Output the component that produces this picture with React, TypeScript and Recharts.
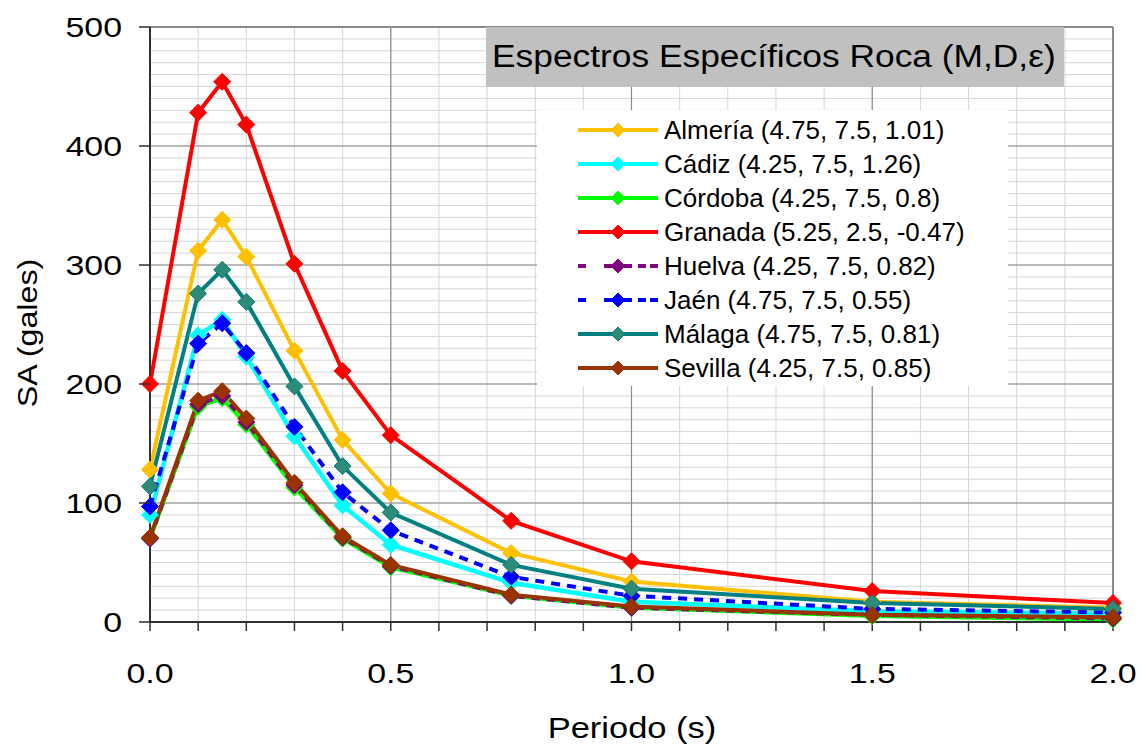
import React from 'react';
import { LineChart, Line, XAxis, YAxis, CartesianGrid, ReferenceLine } from 'recharts';

const FONT = '"Liberation Sans", Arial, Helvetica, sans-serif';

const periods = [0, 0.1, 0.15, 0.2, 0.3, 0.4, 0.5, 0.75, 1.0, 1.5, 2.0];

const almeria = [128, 312, 338, 307, 228, 153, 108, 58, 34, 17, 12];
const cadiz = [90, 241, 254, 223, 156, 98, 65, 33, 17, 9, 7];
const cordoba = [70, 181, 188, 166, 113, 70, 46, 22, 12, 5, 2];
const granada = [200, 428, 454, 418, 301, 211, 157, 85, 51, 26, 16];
const huelva = [70, 183, 190, 168, 115, 71, 47, 22, 12, 6, 3];
const jaen = [97, 234, 251, 226, 164, 109, 77, 38, 22, 11, 8];
const malaga = [114, 276, 296, 269, 198, 131, 92, 48, 28, 16, 11];
const sevilla = [71, 186, 194, 171, 117, 72, 48, 23, 13, 6, 4];

const seriesNames = [
  'Almería (4.75, 7.5, 1.01)',
  'Cádiz (4.25, 7.5, 1.26)',
  'Córdoba (4.25, 7.5, 0.8)',
  'Granada (5.25, 2.5, -0.47)',
  'Huelva (4.25, 7.5, 0.82)',
  'Jaén (4.75, 7.5, 0.55)',
  'Málaga (4.75, 7.5, 0.81)',
  'Sevilla (4.25, 7.5, 0.85)',
];

const xTicks = [0, 0.1, 0.2, 0.3, 0.4, 0.5, 0.6, 0.7, 0.8, 0.9, 1.0, 1.1, 1.2, 1.3, 1.4, 1.5, 1.6, 1.7, 1.8, 1.9, 2.0];
const yTicks = [0, 10, 20, 30, 40, 50, 60, 70, 80, 90, 100, 110, 120, 130, 140, 150, 160, 170, 180, 190, 200, 210, 220, 230, 240, 250, 260, 270, 280, 290, 300, 310, 320, 330, 340, 350, 360, 370, 380, 390, 400, 410, 420, 430, 440, 450, 460, 470, 480, 490, 500];
const xMajor = [0.5, 1.0, 1.5];
const yMajor = [100, 200, 300, 400];

type S = { key: string; name: string; values: number[]; color: string; fill: string; stroke: string; dash?: string; width: number };

const series: S[] = [
  { key: 'almeria', name: seriesNames[0], values: almeria, color: '#FFC000', fill: '#FFC000', stroke: '#FFC000', width: 4 },
  { key: 'cadiz', name: seriesNames[1], values: cadiz, color: '#00FFFF', fill: '#00FFFF', stroke: '#00FFFF', width: 4.5 },
  { key: 'cordoba', name: seriesNames[2], values: cordoba, color: '#00FF00', fill: '#00FF00', stroke: '#00FF00', width: 4 },
  { key: 'granada', name: seriesNames[3], values: granada, color: '#FF0000', fill: '#FF0000', stroke: '#FF0000', width: 4 },
  { key: 'huelva', name: seriesNames[4], values: huelva, color: '#800080', fill: '#800080', stroke: '#800080', dash: '8 7', width: 4 },
  { key: 'jaen', name: seriesNames[5], values: jaen, color: '#0000FF', fill: '#0000FF', stroke: '#0000FF', dash: '9 7', width: 4 },
  { key: 'malaga', name: seriesNames[6], values: malaga, color: '#008080', fill: '#2E8B7A', stroke: '#007A6E', width: 4 },
  { key: 'sevilla', name: seriesNames[7], values: sevilla, color: '#993300', fill: '#993300', stroke: '#993300', width: 4 },
];

const data = periods.map((t, i) => {
  const row: Record<string, number> = { t };
  series.forEach((s) => {
    row[s.key] = s.values[i];
  });
  return row;
});

const diamondPath = (cx: number, cy: number, r: number) =>
  `M${cx} ${cy - r} L${cx + r} ${cy} L${cx} ${cy + r} L${cx - r} ${cy} Z`;

const makeDot = (fill: string, stroke: string) => (props: any) => {
  const { cx, cy, index } = props;
  if (cx == null || cy == null) return <g key={`d-${index}`} />;
  return <path key={`d-${index}`} d={diamondPath(cx, cy, 8.5)} fill={fill} stroke={stroke} strokeWidth={1} />;
};

const XTick = (props: any) => {
  const { x, y, payload } = props;
  const v = payload.value as number;
  const major = Math.abs(v * 2 - Math.round(v * 2)) < 1e-6;
  if (!major) return <g />;
  return (
    <text
      transform={`translate(${x},${y + 50}) scale(1.21,1)`}
      x={0}
      y={0}
      textAnchor="middle"
      fontFamily={FONT}
      fontSize={28}
      fill="#000"
    >
      {v.toFixed(1)}
    </text>
  );
};

const YTick = (props: any) => {
  const { x, y, payload } = props;
  const v = payload.value as number;
  if (v % 100 !== 0) return <g />;
  return (
    <g>
      <line x1={x} y1={y} x2={x + 11} y2={y} stroke="#303030" strokeWidth={1.5} />
      <text
        transform={`translate(${x - 17},${y + 10}) scale(1.21,1)`}
        x={0}
        y={0}
        textAnchor="end"
        fontFamily={FONT}
        fontSize={28}
        fill="#000"
      >
        {v}
      </text>
    </g>
  );
};

const LegendIcon = ({ s }: { s: S }) => (
  <svg width={82} height={20} style={{ display: 'block' }}>
    <line x1={0} y1={10} x2={80} y2={10} stroke={s.color} strokeWidth={4} strokeDasharray={s.dash ? '8 22' : undefined} />
    {s.dash ? <line x1={26} y1={10} x2={54} y2={10} stroke={s.color} strokeWidth={4} /> : null}
    {s.dash ? <line x1={72} y1={10} x2={80} y2={10} stroke={s.color} strokeWidth={4} /> : null}
    <path d={diamondPath(40, 10, 7)} fill={s.fill} stroke={s.stroke} strokeWidth={1} />
  </svg>
);

export default function App() {
  return (
    <div style={{ position: 'absolute', left: 0, top: 0, width: 1144, height: 744, background: '#fff', overflow: 'hidden' }}>
      <LineChart width={1144} height={744} data={data} margin={{ top: 27, right: 31, bottom: 0, left: 0 }}>
        <CartesianGrid stroke="#d6d6d6" strokeWidth={1} />
        {xMajor.map((v) => (
          <ReferenceLine key={`xm-${v}`} x={v} stroke="#8a8a8a" strokeWidth={1.2} />
        ))}
        {yMajor.map((v) => (
          <ReferenceLine key={`ym-${v}`} y={v} stroke="#8a8a8a" strokeWidth={1.2} />
        ))}
        <ReferenceLine y={500} stroke="#8a8a8a" strokeWidth={2} />
        <ReferenceLine x={2} stroke="#8a8a8a" strokeWidth={2} />
        <XAxis
          dataKey="t"
          type="number"
          domain={[0, 2]}
          ticks={xTicks}
          interval={0}
          height={122}
          tickSize={9}
          tickMargin={2}
          tickLine={{ stroke: '#303030', strokeWidth: 1.5 }}
          axisLine={{ stroke: '#303030', strokeWidth: 2 }}
          tick={<XTick />}
          label={{
            content: () => (
              <text
                transform="translate(632,738) scale(1.15,1)"
                x={0}
                y={0}
                textAnchor="middle"
                fontFamily={FONT}
                fontSize={30}
                fill="#000"
              >
                Periodo (s)
              </text>
            ),
          }}
        />
        <YAxis
          type="number"
          domain={[0, 500]}
          ticks={yTicks}
          interval={0}
          width={150}
          tickSize={11}
          tickMargin={0}
          tickLine={false}
          axisLine={{ stroke: '#303030', strokeWidth: 2 }}
          tick={<YTick />}
          label={{
            content: () => (
              <text
                transform="translate(27,333) rotate(-90) scale(1.15,1)"
                x={0}
                y={0}
                textAnchor="middle"
                dominantBaseline="central"
                fontFamily={FONT}
                fontSize={28}
                fill="#000"
              >
                SA (gales)
              </text>
            ),
          }}
        />
        {series.map((s) => (
          <Line
            key={s.key}
            dataKey={s.key}
            name={s.name}
            type="linear"
            stroke={s.color}
            strokeWidth={s.width}
            strokeDasharray={s.dash}
            dot={makeDot(s.fill, s.stroke)}
            activeDot={false}
            isAnimationActive={false}
          />
        ))}
      </LineChart>
      <div
        style={{
          position: 'absolute',
          left: 486,
          top: 27,
          width: 578,
          height: 60,
          background: '#C0C0C0',
          boxSizing: 'border-box',
          overflow: 'hidden',
        }}
      >
        <div
          style={{
            position: 'absolute',
            left: 6,
            top: 0,
            fontFamily: FONT,
            fontSize: 31,
            lineHeight: '60px',
            color: '#000',
            whiteSpace: 'nowrap',
            transform: 'scaleX(1.14)',
            transformOrigin: 'left center',
          }}
        >
          Espectros Específicos Roca (M,D,ε)
        </div>
      </div>
      <div
        style={{
          position: 'absolute',
          left: 537,
          top: 110,
          width: 471,
          height: 276,
          background: '#fff',
          paddingTop: 3,
          boxSizing: 'border-box',
        }}
      >
        {series.map((s) => (
          <div key={s.key} style={{ display: 'flex', alignItems: 'center', height: 34 }}>
            <div style={{ width: 41 }} />
            <LegendIcon s={s} />
            <div style={{ width: 4 }} />
            <span style={{ fontFamily: FONT, fontSize: 26, color: '#000', whiteSpace: 'nowrap' }}>{s.name}</span>
          </div>
        ))}
      </div>
    </div>
  );
}
